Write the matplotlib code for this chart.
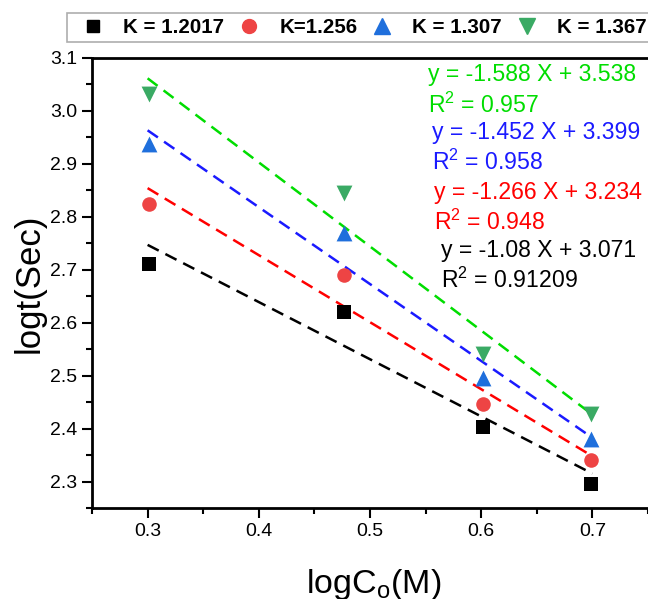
import numpy as np
import matplotlib.pyplot as plt
from matplotlib.lines import Line2D

plt.rcParams['font.family'] = ['Liberation Sans', 'DejaVu Sans']

# data
log_c0 = [0.301, 0.477, 0.602, 0.699]
labels = ["K = 1.2017", "K=1.256", "K = 1.307", "K = 1.367"]
logt_k1 = [2.710, 2.620, 2.403, 2.295]
logt_k2 = [2.825, 2.690, 2.447, 2.340]
logt_k3 = [2.937, 2.770, 2.495, 2.380]
logt_k4 = [3.032, 2.845, 2.540, 2.427]
slopes = [-1.08, -1.266, -1.452, -1.588]
intercepts = [3.071, 3.234, 3.399, 3.538]
r2_text = ["0.91209", "0.948", "0.958", "0.957"]
eq_text = ["y = -1.08 X + 3.071", "y = -1.266 X + 3.234",
           "y = -1.452 X + 3.399", "y = -1.588 X + 3.538"]

series = [logt_k1, logt_k2, logt_k3, logt_k4]
markers = ["s", "o", "^", "v"]
msizes = [100, 110, 130, 130]
mcolors = ["#000000", "#ee4444", "#1f6fdc", "#3aaa64"]
lcolors = ["#000000", "#ff0000", "#1a1aff", "#00dd00"]

W, H = 648, 599
fig = plt.figure(figsize=(W / 100, H / 100), dpi=100)
ax = fig.add_axes([92 / W, 1 - 508 / H, 556 / W, 450 / H])

x_fit = np.array([0.3, 0.7])
for ys, m, ms, mc, lc, s, b in zip(series, markers, msizes, mcolors, lcolors, slopes, intercepts):
    ax.plot(x_fit, s * x_fit + b, ls=(0, (5, 3)), color=lc, lw=1.8, zorder=2)
    ax.scatter(log_c0, ys, marker=m, color=mc, s=ms, zorder=3, linewidths=0)

ax.set_xlim(0.25, 0.75)
ax.set_ylim(2.25, 3.1)
ax.set_xticks([0.3, 0.4, 0.5, 0.6, 0.7])
ax.set_xticks(np.arange(0.25, 0.76, 0.05), minor=True)
ax.set_yticks(np.arange(2.3, 3.11, 0.1))
ax.set_yticks(np.arange(2.25, 3.1, 0.05), minor=True)
ax.yaxis.set_major_formatter(plt.FormatStrFormatter('%.1f'))
ax.tick_params(which='major', direction='out', length=7, width=1.5, labelsize=14)
ax.tick_params(which='minor', direction='out', length=4, width=1.5)
for sp in ax.spines.values():
    sp.set_linewidth(2)
ax.spines['right'].set_visible(False)

ax.set_xlabel(r"logC$_\mathregular{o}$(M)", fontsize=24.5)
ax.xaxis.label.set_va('baseline')
ax.xaxis.set_label_coords(0.507, -(593 - 508) / 450)
ax.set_ylabel("logt(Sec)", fontsize=25)
ax.yaxis.set_label_coords(-(92 - 29) / 556, 0.5)
ax.yaxis.label.set_va('center')

# equation annotations (pixel positions from reference)
ann_pos = [(441, 250, 280), (434, 192, 222), (432, 132, 162), (428, 75, 105)]
for (px, py_eq, py_r), eq, r2, lc in zip(ann_pos, eq_text, r2_text, lcolors):
    fig.text(px / W, 1 - py_eq / H, eq, color=lc, fontsize=16.6, va='center')
    fig.text(px / W, 1 - py_r / H, r"R$^\mathregular{2}$ = " + r2, color=lc,
             fontsize=16.6, va='center')

handles = [Line2D([], [], marker=m, color=mc, ls='none', markersize=ms)
           for m, mc, ms in zip(markers, mcolors, [9, 10, 11, 11])]
leg = fig.legend(handles, labels, ncol=4, loc='upper left',
                 bbox_to_anchor=(67 / W, 1 - 13 / H), frameon=True,
                 borderaxespad=0, fancybox=False, edgecolor='#999999',
                 handletextpad=0.42, columnspacing=0.18, handlelength=2.07,
                 borderpad=0.25, prop={'weight': 'bold', 'size': 14.8})
leg.get_frame().set_linewidth(1.2)

fig.savefig("out.png", dpi=100)
